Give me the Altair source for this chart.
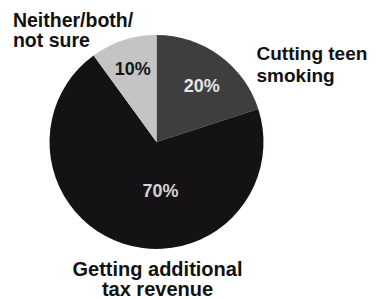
import altair as alt
import pandas as pd

# ---- data ----
categories = ["Cutting teen smoking", "Getting additional tax revenue", "Neither/both/not sure"]
values = [20, 70, 10]
pct_labels = ["20%", "70%", "10%"]
ext_labels = ["Cutting teen\nsmoking", "Getting additional\ntax revenue", "Neither/both/\nnot sure"]
slice_order = [0, 1, 2]

slice_colors = ["#3e3e3e", "#141215", "#c4c4c4"]

df = pd.DataFrame({
    "cat": categories,
    "value": values,
    "pct": pct_labels,
    "label": ext_labels,
    "order": slice_order,
})

CX, CY, R = 148.5, 134, 107
FONT = "Liberation Sans"

arcs = alt.Chart(df).mark_arc(radius=R).encode(
    theta=alt.Theta("value:Q", stack=True),
    order=alt.Order("order:Q"),
    color=alt.Color("cat:N", scale=alt.Scale(domain=categories, range=slice_colors), legend=None),
    x=alt.value(CX),
    y=alt.value(CY),
)

base = alt.Chart(df).transform_window(
    cum="sum(value)", sort=[alt.SortField("order")], frame=[None, 0]
).transform_calculate(mid="datum.cum - datum.value / 2")

theta_mid = alt.Theta("mid:Q", scale=alt.Scale(domain=[0, 100], range=[0, 6.283185307179586]))


def text_layer(cat, field, radius, dx, dy, color, size, align="center", baseline="middle", line_height=None):
    kw = dict(radius=radius, dx=dx, dy=dy, color=color, fontSize=size, fontWeight="bold",
              font=FONT, align=align, baseline=baseline, lineBreak="\n")
    if line_height is not None:
        kw["lineHeight"] = line_height
    return base.transform_filter(alt.datum.cat == cat).mark_text(**kw).encode(
        theta=theta_mid,
        text=alt.Text(f"{field}:N"),
        x=alt.value(CX),
        y=alt.value(CY),
    )


layers = [
    arcs,
    # percent labels inside slices
    text_layer(categories[0], "pct", 70, 4, 2, "#e4e4e4", 18),
    text_layer(categories[1], "pct", 52, 20, 1, "#d2d2d2", 18),
    text_layer(categories[2], "pct", 77, 0, 1, "#161616", 18),
    # category labels outside
    text_layer(categories[0], "label", 120, 29.5, 15.5, "#111111", 19, align="left", baseline="alphabetic", line_height=22),
    text_layer(categories[1], "label", 135, 42.7, 5.6, "#111111", 20, align="center", baseline="alphabetic", line_height=20),
    text_layer(categories[2], "label", 120, -106.5, -1, "#111111", 19.5, align="left", baseline="alphabetic", line_height=20),
]

chart = alt.layer(*layers).resolve_scale(theta="independent").properties(
    width=360,
    height=291,
    padding=0,
    autosize=alt.AutoSizeParams(type="none"),
    background="white",
).configure_view(stroke=None)

chart.save("out.html", embed_options={"renderer": "svg", "actions": False})
